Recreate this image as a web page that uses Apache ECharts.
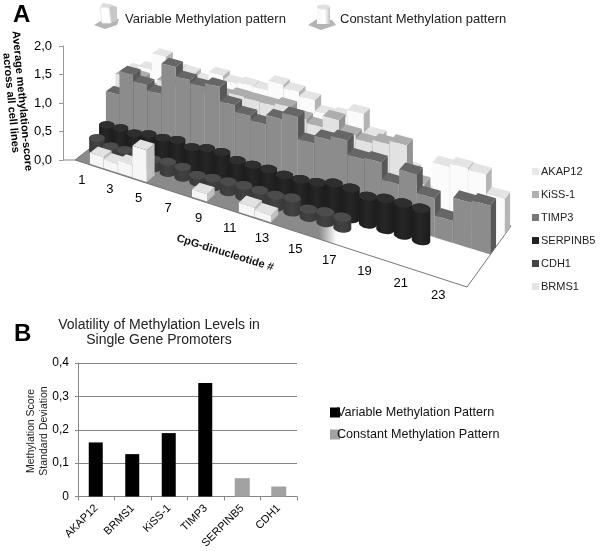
<!DOCTYPE html>
<html><head><meta charset="utf-8">
<style>html,body{margin:0;padding:0;background:#fff}#c{width:600px;height:551px}</style>
<script src="https://cdn.jsdelivr.net/npm/echarts@6/dist/echarts.min.js"></script>
</head><body><div id="c"></div>
<script>
const cpgLabels = [1,3,5,7,9,11,13,15,17,19,21,23];
const AKAP12   = [0.98,1.08,1.38,1.22,1.21,1.14,1.31,1.24,1.27,1.26,1.43,1.38,1.31,1.13,1.17,1.29,0.99,0.82,0.60,0.30,0.81,0.87,0.85,0.55];
const KiSS1    = [1.00,1.05,0.90,1.10,1.10,1.15,1.10,1.15,1.21,1.20,1.20,1.25,1.12,1.06,1.25,1.08,1.02,1.08,1.14,0.60,0,0,0,0];
const TIMP3    = [0.81,1.24,1.13,1.04,1.58,1.42,1.37,1.44,1.20,1.09,1.02,1.18,1.29,0.93,1.06,1.13,0.90,0.93,0.66,0.90,0.61,0.34,0.70,0.74];
const SERPINB5 = [0.32,0.34,0.32,0.38,0.39,0.43,0.38,0.44,0.45,0.39,0.39,0.40,0.38,0.39,0.42,0.49,0.49,0.44,0.49,0.50,0.50,0,0,0];
const CDH1     = [0.22,0.15,0.16,0.15,0.15,0.19,0.18,0.12,0.15,0.17,0.19,0.19,0.19,0.23,0.13,0.17,0.17,0,0,0,0,0,0,0];
const BRMS1    = [0,0.19,0.15,0.21,0.54,0,0,0,0.12,0,0,0.15,0.11,0,0,0,0,0,0,0,0,0,0,0];
const genes = ['AKAP12','KiSS-1','TIMP3','SERPINB5','CDH1','BRMS1'];
const geneValues = [AKAP12,KiSS1,TIMP3,SERPINB5,CDH1,BRMS1];
const geneKinds = ['box','box','box','cyl','cyl','box'];
const genePalette = [
 {face:'#fbfbfb',top:'#e4e4e4',side:'#b4b4b4',key:'#e8e8e8'},
 {face:'#e2e2e2',top:'#adadad',side:'#939393',key:'#b0b0b0'},
 {face:'#8c8c8c',top:'#666666',side:'#585858',key:'#777777'},
 {face:'#262626',top:'#2e2e2e',side:'#1c1c1c',key:'#222222'},
 {face:'#424242',top:'#4c4c4c',side:'#383838',key:'#444444'},
 {face:'#f6f6f6',top:'#e2e2e2',side:'#c0c0c0',key:'#e4e4e4'}
];
const stdGenes = ['AKAP12','BRMS1','KiSS-1','TIMP3','SERPINB5','CDH1'];
const variableStd = [0.162,0.127,0.19,0.34,null,null];
const constantStd = [null,null,null,null,0.055,0.03];

const CATS = 24, ROWS = 6;
// perspective floor: front-left, front-right, back-right, back-left
const Q = [[75,160],[467,287],[511,226],[133,115]];
const H = (function(){
  const [p0,p1,p2,p3]=Q;
  const dx1=p1[0]-p2[0],dx2=p3[0]-p2[0],dx3=p0[0]-p1[0]+p2[0]-p3[0];
  const dy1=p1[1]-p2[1],dy2=p3[1]-p2[1],dy3=p0[1]-p1[1]+p2[1]-p3[1];
  const den=dx1*dy2-dx2*dy1;
  const g=(dx3*dy2-dx2*dy3)/den,h=(dx1*dy3-dx3*dy1)/den;
  return {a:p1[0]-p0[0]+g*p1[0],b:p3[0]-p0[0]+h*p3[0],c:p0[0],d:p1[1]-p0[1]+g*p1[1],e:p3[1]-p0[1]+h*p3[1],f:p0[1],g,h};
})();
function makeProject(api){
  const o=api.coord([0,0]), e=api.coord([CATS,0]);
  return function(s,row,v){
    const px=api.coord([s,v]);
    const t=(px[0]-o[0])/(e[0]-o[0]), u=row/ROWS, z=o[1]-px[1];
    const w=H.g*t+H.h*u+1;
    return [(H.a*t+H.b*u+H.c)/w,(H.d*t+H.e*u+H.f-z)/w];
  };
}
function boxItem(params,api,pal,row){
  const cat=api.value(0), v=api.value(1);
  if(!v) return null;
  const P=makeProject(api);
  const s0=cat-0.99,s1=cat-0.01,d0=row+0.1,d1=row+0.9;
  const a=P(s0,d0,0),b=P(s1,d0,0),c=P(s1,d1,0),at=P(s0,d0,v),bt=P(s1,d0,v),ct=P(s1,d1,v),dt=P(s0,d1,v);
  return {type:'group',silent:true,children:[
    {type:'polygon',shape:{points:[b,c,ct,bt]},style:{fill:pal.side}},
    {type:'polygon',shape:{points:[at,bt,ct,dt]},style:{fill:pal.top}},
    {type:'polygon',shape:{points:[a,b,bt,at]},style:{fill:new echarts.graphic.LinearGradient(0,0,1,0,[{offset:0,color:pal.face},{offset:0.82,color:pal.face},{offset:1,color:pal.edge||pal.face}])}}
  ]};
}
function ring(P,cs,cd,v,rs,rd){
  const pts=[];
  for(let i=0;i<28;i++){const th=i/28*Math.PI*2;pts.push(P(cs+rs*Math.cos(th),cd+rd*Math.sin(th),v));}
  return pts;
}
function hull(pts){
  const p=pts.slice().sort((a,b)=>a[0]-b[0]||a[1]-b[1]);
  const cr=(o,a,b)=>(a[0]-o[0])*(b[1]-o[1])-(a[1]-o[1])*(b[0]-o[0]);
  const lo=[],up=[];
  for(const q of p){while(lo.length>1&&cr(lo[lo.length-2],lo[lo.length-1],q)<=0)lo.pop();lo.push(q);}
  for(const q of p.slice().reverse()){while(up.length>1&&cr(up[up.length-2],up[up.length-1],q)<=0)up.pop();up.push(q);}
  return lo.slice(0,-1).concat(up.slice(0,-1));
}
function cylItem(params,api,pal,row){
  const cat=api.value(0), v=api.value(1);
  if(!v) return null;
  const P=makeProject(api);
  const cs=cat-0.5,cd=row+0.5;
  const bottom=ring(P,cs,cd,0,0.48,0.42),top=ring(P,cs,cd,v,0.48,0.42);
  return {type:'group',silent:true,children:[
    {type:'polygon',shape:{points:hull(bottom.concat(top))},style:{fill:new echarts.graphic.LinearGradient(0,0,1,0,[{offset:0,color:pal.side},{offset:0.45,color:pal.face},{offset:1,color:pal.side}])}},
    {type:'polygon',shape:{points:top},style:{fill:pal.top}}
  ]};
}
const series3d = genes.map(function(name,i){
  const row = ROWS-1-i, pal=genePalette[i], kind=geneKinds[i];
  return {
    type:'custom',name,coordinateSystem:'cartesian2d',xAxisIndex:0,yAxisIndex:0,silent:true,clip:false,z:3,
    itemStyle:{color:pal.key},
    data:geneValues[i].map((v,k)=>[k+1,v]),
    renderItem:function(p,api){return kind==='box'?boxItem(p,api,pal,row):cylItem(p,api,pal,row);}
  };
});
const floorSeries = {
  type:'custom',name:'floor',coordinateSystem:'cartesian2d',xAxisIndex:0,yAxisIndex:0,silent:true,clip:false,z:2,
  data:[[0,0]],
  renderItem:function(p,api){
    const P=makeProject(api);
    const a=P(0,0,0),b=P(CATS,0,0),c=P(CATS,ROWS,0),d=P(0,ROWS,0);
    return {type:'group',children:[
      {type:'polygon',shape:{points:[a,b,c,d]},style:{fill:new echarts.graphic.LinearGradient(0,0,1,0,[{offset:0,color:'#8a8a8a'},{offset:0.56,color:'#8a8a8a'},{offset:0.6,color:'#ffffff'},{offset:1,color:'#ffffff'}]),stroke:'#777',lineWidth:1}},
      {type:'line',shape:{x1:api.coord([0,0])[0],y1:a[1],x2:a[0],y2:a[1]},style:{stroke:'#888',lineWidth:1}}
    ]};
  }
};
const labelSeries = {
  type:'custom',name:'cpg',coordinateSystem:'cartesian2d',xAxisIndex:0,yAxisIndex:0,silent:true,clip:false,z:4,
  data:cpgLabels.map(n=>[n,0]),
  renderItem:function(p,api){
    const P=makeProject(api), n=api.value(0), q=P(n-0.5,0,0);
    return {type:'text',style:{text:String(n),x:q[0],y:q[1]+18,align:'center',verticalAlign:'middle',font:'13px "Liberation Sans"',fill:'#000'}};
  }
};
function boxIcon(x,y){return {type:'group',silent:true,children:[
  {type:'polygon',shape:{points:[[x-3,y+23],[x+7,y+17],[x+22,y+17],[x+20,y+23],[x+8,y+27]]},style:{fill:'#b5b5b5'}},
  {type:'polygon',shape:{points:[[x+12,y+2],[x+20,y+5],[x+20,y+19],[x+12,y+21]]},style:{fill:'#c8c8c8'}},
  {type:'polygon',shape:{points:[[x+3,y+5],[x+6,y+1],[x+16,y+3],[x+12,y+6]]},style:{fill:'#dddddd'}},
  {type:'polygon',shape:{points:[[x+3,y+5],[x+12,y+6],[x+14,y+21],[x+5,y+21]]},style:{fill:'#fff',stroke:'#e8e8e8'}}
]};}
function cylIcon(x,y){return {type:'group',silent:true,children:[
  {type:'polygon',shape:{points:[[x-4,y+23],[x+5,y+17],[x+20,y+18],[x+24,y+23],[x+9,y+28]]},style:{fill:'#b5b5b5'}},
  {type:'rect',shape:{x:x+5,y:y+5,width:13,height:17},style:{fill:new echarts.graphic.LinearGradient(0,0,1,0,[{offset:0,color:'#f8f8f8'},{offset:0.6,color:'#ffffff'},{offset:1,color:'#c0c0c0'}])}},
  {type:'ellipse',shape:{cx:x+11.5,cy:y+5,rx:6.5,ry:2.5},style:{fill:'#e0e0e0'}}
]};}
const chart = echarts.init(document.getElementById('c'),null,{renderer:'canvas'});
const FF='"Liberation Sans"';
chart.setOption({
  animation:false,
  backgroundColor:'#fff',
  textStyle:{fontFamily:'Liberation Sans',color:'#000'},
  grid:[
    {left:63,top:46,width:400,height:114,containLabel:false},
    {left:78,top:363,width:219,height:135,containLabel:false}
  ],
  xAxis:[
    {gridIndex:0,type:'value',min:0,max:CATS,show:false},
    {gridIndex:1,type:'category',data:stdGenes,
      axisLine:{lineStyle:{color:'#868686'}},axisTick:{show:true,alignWithLabel:false,length:4,lineStyle:{color:'#868686'}},
      axisLabel:{rotate:45,color:'#000',fontSize:11,fontFamily:'Liberation Sans',margin:10,interval:0}}
  ],
  yAxis:[
    {gridIndex:0,type:'value',min:0,max:2,interval:0.5,splitLine:{show:false},
      axisLine:{show:true,lineStyle:{color:'#999'}},axisTick:{show:true,length:4,lineStyle:{color:'#999'}},
      axisLabel:{fontSize:13,color:'#000',fontFamily:'Liberation Sans',margin:11,formatter:v=>v.toFixed(1).replace('.',',')}},
    {gridIndex:1,type:'value',min:0,max:0.4,interval:0.1,
      splitLine:{show:true,lineStyle:{color:'#868686'}},
      axisLine:{show:true,lineStyle:{color:'#868686'}},axisTick:{show:true,length:3,lineStyle:{color:'#868686'}},
      axisLabel:{fontSize:12,color:'#000',fontFamily:'Liberation Sans',margin:9,formatter:v=>v===0?'0':v.toFixed(1).replace('.',',')}}
  ],
  legend:[
    {data:genes,orient:'vertical',left:527,top:161,itemWidth:7,itemHeight:7,itemGap:12,icon:'rect',
     textStyle:{fontSize:11,color:'#222',fontFamily:'Liberation Sans',padding:[0,0,0,-3]},selectedMode:false},
    {data:['Variable Methylation Pattern','Constant Methylation Pattern'],orient:'vertical',left:325,top:401,itemWidth:10,itemHeight:10,itemGap:9,icon:'rect',
     textStyle:{fontSize:12.6,color:'#111',fontFamily:'Liberation Sans',padding:[0,0,0,-8]},selectedMode:false}
  ],
  graphic:[
    {type:'text',left:13,top:3,style:{text:'A',font:'bold 24px '+FF,fill:'#000'}},
    {type:'text',left:14,top:322,style:{text:'B',font:'bold 24px '+FF,fill:'#000'}},
    boxIcon(97,2),
    {type:'text',left:125,top:13,style:{text:'Variable Methylation pattern',font:'13px '+FF,fill:'#222'}},
    cylIcon(312,2),
    {type:'text',left:340,top:13,style:{text:'Constant Methylation pattern',font:'13px '+FF,fill:'#222'}},
    {type:'text',x:22,y:101,rotation:-1.477,style:{text:'Average methylation-score',align:'center',verticalAlign:'middle',font:'bold 11px '+FF,fill:'#000'}},
    {type:'text',x:11,y:103,rotation:-1.477,style:{text:'across all cell lines',align:'center',verticalAlign:'middle',font:'bold 11px '+FF,fill:'#000'}},
    {type:'text',x:225,y:253,rotation:-0.30,style:{text:'CpG-dinucleotide #',align:'center',verticalAlign:'middle',font:'bold 11px '+FF,fill:'#111'}},
    {type:'text',x:159,y:325,style:{text:'Volatility of Methylation Levels in',align:'center',verticalAlign:'middle',font:'14px '+FF,fill:'#222'}},
    {type:'text',x:159,y:340,style:{text:'Single Gene Promoters',align:'center',verticalAlign:'middle',font:'14px '+FF,fill:'#222'}},
    {type:'text',x:31,y:431,rotation:Math.PI/2,style:{text:'Methylation Score',align:'center',verticalAlign:'middle',font:'10.5px '+FF,fill:'#222'}},
    {type:'text',x:44,y:431,rotation:Math.PI/2,style:{text:'Standard Deviation',align:'center',verticalAlign:'middle',font:'10.5px '+FF,fill:'#222'}}
  ],
  series:[floorSeries].concat(series3d,[labelSeries,
    {type:'bar',name:'Variable Methylation Pattern',xAxisIndex:1,yAxisIndex:1,data:variableStd,barWidth:14,barGap:'-100%',itemStyle:{color:'#000'}},
    {type:'bar',name:'Constant Methylation Pattern',xAxisIndex:1,yAxisIndex:1,data:constantStd,barWidth:15,barGap:'-100%',itemStyle:{color:'#a2a2a2'}}
  ])
});
</script></body></html>
